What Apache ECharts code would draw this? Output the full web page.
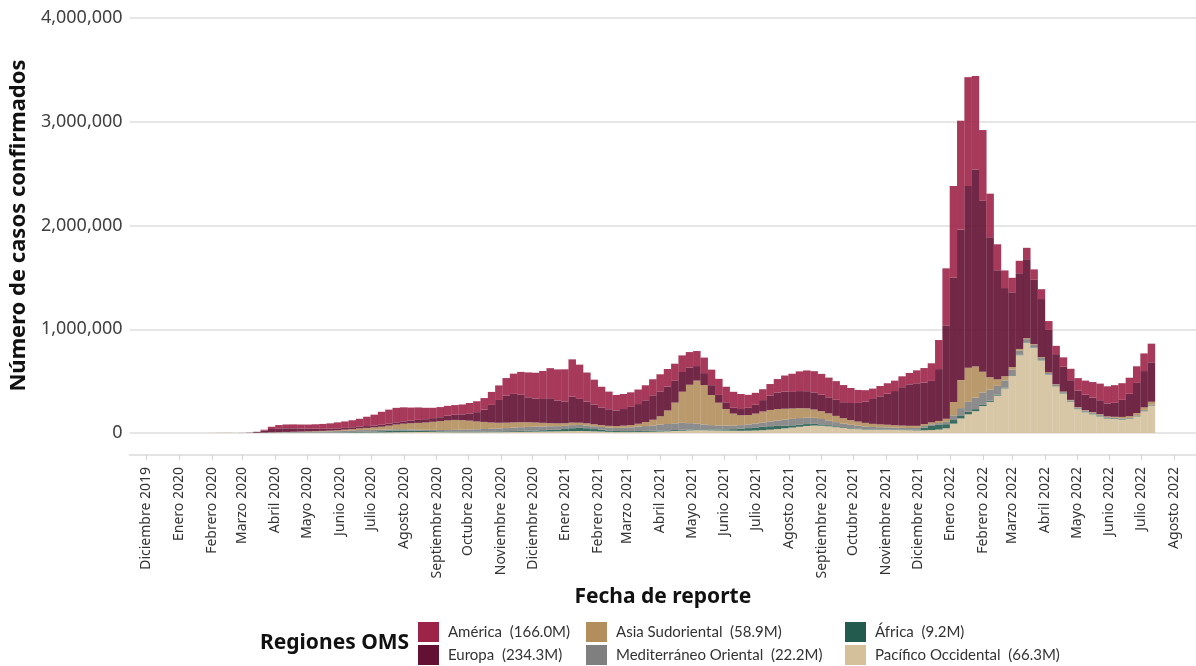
<!DOCTYPE html>
<html>

<head>
    <meta charset="utf-8">
    <title>Casos confirmados por región OMS</title>
    <style>
        html, body { margin: 0; padding: 0; background: #ffffff; }
        #chart-container { width: 1196px; height: 666px; }
    </style>
    <script src="https://cdn.jsdelivr.net/npm/echarts@6/dist/echarts.min.js"></script>
</head>

<body>
    <div id="chart-container"></div>
    <script>
        // casos diarios (miles), una barra por semana desde el jueves 16-ene-2020
        const firstWeek = [2020, 0, 16];

        const pacifico = [
            0.1, 0.5, 2, 3.5, 5, 1.5, 1, 1.2, 1, 1.5, 2, 2.5, 3, 3, 3, 2.5, 2.5, 2.5, 2, 2.5,
            3, 3.5, 4, 4.5, 5, 5.5, 6.5, 7.5, 8.5, 9, 9.5, 10, 9, 8, 7.5, 7, 7, 7, 7, 7.5, 8, 8.5,
            9, 10, 11, 12, 13, 14, 15, 16, 17,
            18, 19, 18, 16, 14, 11, 9, 9, 9, 10, 11, 12, 14, 16, 19, 22, 25, 27, 27, 25, 24,
            23, 22, 21, 22, 24, 27, 32, 38, 45, 52, 60, 68, 72, 70, 64, 56, 48, 42, 37, 32, 30, 30,
            30, 29, 28, 27, 25, 26, 28, 33, 45,
            90, 140, 180, 210, 260, 300, 360, 430, 550, 750, 870, 820, 700, 560, 450, 380, 300,
            230, 200, 180, 160, 140, 135, 130, 135, 160, 210, 260
        ];
        const africa = [
            0, 0, 0, 0, 0, 0, 0, 0, 0, 0.1, 0.3, 0.5, 0.7, 1, 1.2, 1.5, 2, 2.5, 3, 3.5,
            4.5, 5.5, 7, 8.5, 10, 12, 14, 16, 16, 14, 12, 10, 9, 8, 7, 7, 7, 7, 7, 7, 7, 7,
            7.5, 8, 9, 10, 11, 13, 15, 18, 22,
            28, 30, 28, 22, 17, 13, 10, 9, 9, 9, 9, 9, 9, 9, 9, 9, 8, 8, 8, 9, 10,
            12, 15, 20, 25, 30, 33, 33, 30, 26, 22, 20, 18, 16, 13, 11, 9, 7, 6, 5, 4.5, 4, 4,
            3.5, 3.5, 3.5, 4, 8, 25, 40, 45, 40,
            35, 30, 25, 20, 15, 12, 9, 7, 6, 5, 5, 4, 4, 3, 3, 4, 5,
            6, 7, 8, 8, 7, 6, 5, 4, 4, 4, 4
        ];
        const mediterraneo = [
            0, 0, 0, 0, 0, 0, 0.5, 1, 1.5, 2, 3.5, 4.5, 5, 6, 7, 8, 9, 10, 11, 12,
            14, 16, 17, 17, 16, 15, 14, 13, 12, 11, 11, 11, 12, 13, 14, 16, 18, 20, 22, 24, 26, 28,
            31, 34, 36, 37, 37, 36, 35, 32, 30,
            30, 28, 27, 27, 27, 28, 30, 33, 37, 42, 47, 52, 58, 62, 65, 67, 62, 55, 47, 42, 38,
            36, 35, 35, 36, 38, 42, 47, 52, 58, 62, 64, 62, 58, 52, 46, 40, 35, 31, 28, 26, 24, 22,
            21, 19, 18, 17, 16, 16, 16, 18, 22,
            45, 70, 95, 110, 115, 105, 85, 70, 55, 40, 30, 25, 20, 15, 12, 10, 9,
            8, 8, 7, 7, 6, 6, 6, 6, 7, 8, 9
        ];
        const asia = [
            0, 0, 0, 0, 0, 0, 0, 0, 0.1, 0.2, 0.5, 1, 1.5, 2, 2.5, 3.5, 4.5, 5.5, 7, 8.5,
            11, 13, 16, 19, 23, 28, 36, 45, 53, 60, 65, 70, 78, 85, 93, 96, 92, 85, 75, 68, 60, 55,
            52, 50, 48, 45, 40, 35, 30, 27, 25,
            24, 22, 20, 19, 18, 17, 18, 20, 22, 28, 38, 55, 80, 130, 200, 300, 370, 415, 380, 290, 220,
            160, 115, 95, 90, 95, 105, 110, 110, 105, 100, 95, 90, 80, 75, 68, 60, 52, 45, 40, 35, 30, 27,
            25, 23, 22, 21, 20, 19, 18, 20, 30,
            130, 270, 330, 300, 200, 120, 65, 40, 25, 15, 10, 8, 7, 6, 5, 5, 5,
            5, 5, 6, 6, 7, 9, 14, 18, 22, 25, 28
        ];
        const europa = [
            0, 0, 0, 0, 0, 0, 0.5, 2, 8, 20, 32, 36, 35, 33, 30, 26, 24, 20, 18, 18,
            17, 17, 18, 18, 18, 19, 20, 21, 23, 26, 29, 32, 35, 38, 45, 50, 56, 70, 90, 120, 170, 220,
            260, 275, 265, 240, 230, 230, 240, 220, 210,
            250, 230, 210, 190, 170, 160, 150, 160, 175, 190, 210, 235, 240, 230, 210, 190, 165, 140, 115, 95, 75,
            65, 60, 60, 70, 85, 110, 140, 160, 165, 160, 165, 165, 165, 160, 155, 155, 155, 165, 180, 205, 240, 270,
            300, 330, 370, 400, 410, 400, 400, 500, 900,
            1200, 1450, 1750, 1900, 1650, 1350, 1050, 850, 720, 730, 760, 620, 560, 410, 290, 240, 190,
            160, 150, 140, 135, 125, 135, 165, 215, 290, 350, 380
        ];
        const america = [
            0, 0, 0, 0, 0, 0, 0, 0.2, 1, 8, 22, 32, 37, 38, 38, 40, 42, 47, 52, 58,
            62, 68, 75, 90, 105, 125, 135, 140, 135, 125, 120, 110, 100, 98, 95, 93, 95, 100, 105, 110, 125, 140,
            170, 195, 220, 240, 250, 270, 290, 300, 310,
            360, 330, 280, 240, 200, 170, 150, 145, 140, 140, 145, 155, 165, 170, 165, 160, 150, 145, 150, 150, 155,
            150, 150, 145, 125, 115, 105, 110, 130, 155, 175, 190, 200, 205, 200, 190, 180, 165, 145, 125, 110, 100, 100,
            100, 100, 105, 110, 125, 140, 170, 280, 550,
            880, 1050, 1050, 900, 680, 420, 250, 170, 140, 120, 110, 100, 95, 85, 80, 90, 110,
            120, 135, 150, 160, 165, 170, 160, 155, 160, 170, 180
        ];

        const regionNames = ['Pacífico Occidental', 'África', 'Mediterráneo Oriental', 'Asia Sudoriental', 'Europa', 'América'];
        const regionColors = ['#D4C19C', '#235B4E', '#7F7F7F', '#B38E5D', '#621132', '#9D2449'];
        const regionTotals = {
            'América': '166.0M', 'Europa': '234.3M', 'Asia Sudoriental': '58.9M',
            'Mediterráneo Oriental': '22.2M', 'África': '9.2M', 'Pacífico Occidental': '66.3M'
        };

        const monthLabels = [
            'Diciembre 2019', 'Enero 2020', 'Febrero 2020', 'Marzo 2020', 'Abril 2020', 'Mayo 2020',
            'Junio 2020', 'Julio 2020', 'Agosto 2020', 'Septiembre 2020', 'Octubre 2020', 'Noviembre 2020',
            'Diciembre 2020', 'Enero 2021', 'Febrero 2021', 'Marzo 2021', 'Abril 2021', 'Mayo 2021',
            'Junio 2021', 'Julio 2021', 'Agosto 2021', 'Septiembre 2021', 'Octubre 2021', 'Noviembre 2021',
            'Diciembre 2021', 'Enero 2022', 'Febrero 2022', 'Marzo 2022', 'Abril 2022', 'Mayo 2022',
            'Junio 2022', 'Julio 2022', 'Agosto 2022'
        ];

        const weeks = pacifico.map((_, i) => new Date(firstWeek[0], firstWeek[1], firstWeek[2] + 7 * i).getTime());
        const monthTimes = monthLabels.map((_, i) => new Date(2019, 11 + i, 1).getTime());
        const monthLabelByTime = new Map(monthTimes.map((t, i) => [t, monthLabels[i]]));

        const regionData = [pacifico, africa, mediterraneo, asia, europa, america];

        const font = '"Noto Sans", sans-serif';
        const xMin = new Date(2019, 10, 15).getTime();
        const xMax = new Date(2022, 7, 22).getTime();

        var dom = document.getElementById('chart-container');
        var myChart = echarts.init(dom, null, { renderer: 'canvas' });

        const series = regionNames.map((name, k) => ({
            name: name,
            type: 'bar',
            stack: 'total',
            xAxisIndex: 0,
            barWidth: 7.5,
            data: weeks.map((t, i) => [t, regionData[k][i] * 1000]),
            itemStyle: { color: regionColors[k], opacity: 0.9 },
            emphasis: { disabled: true }
        }));

        const legendBase = {
            orient: 'vertical',
            top: 622,
            padding: 0,
            itemWidth: 21,
            itemHeight: 20,
            itemGap: 3,
            icon: 'rect',
            itemStyle: { opacity: 1 },
            textStyle: { fontFamily: 'Lato', fontSize: 15, color: '#333', padding: [0, 0, 0, 4] },
            formatter: name => name + '  (' + regionTotals[name] + ')'
        };

        var option = {
            animation: false,
            backgroundColor: '#ffffff',
            textStyle: { fontFamily: font },
            grid: { left: 126, right: 0, top: 18, bottom: 233, containLabel: false },
            xAxis: [
                {
                    // eje de tiempo para las barras (oculto)
                    type: 'time',
                    min: xMin,
                    max: xMax,
                    show: false
                },
                {
                    // eje visible: marcas y etiquetas al inicio de cada mes
                    type: 'value',
                    min: xMin,
                    max: xMax,
                    position: 'bottom',
                    offset: 22,
                    axisLine: { lineStyle: { color: '#e3e3e3', width: 2 } },
                    axisTick: { show: true, length: 5, customValues: monthTimes, lineStyle: { color: '#d3d3d3' } },
                    axisLabel: {
                        rotate: 90,
                        customValues: monthTimes,
                        formatter: v => monthLabelByTime.get(v) || '',
                        fontFamily: font,
                        fontSize: 14,
                        color: '#333',
                        margin: 12,
                        padding: [10, 0, 0, 0]
                    },
                    splitLine: { show: false },
                    name: 'Fecha de reporte',
                    nameLocation: 'middle',
                    nameGap: 125,
                    nameTextStyle: { fontFamily: font, fontWeight: 'bold', fontSize: 21, color: '#111' }
                }
            ],
            yAxis: {
                type: 'value',
                min: 0,
                max: 4000000,
                interval: 1000000,
                axisLine: { show: false },
                axisTick: { show: false },
                axisLabel: {
                    formatter: v => v.toLocaleString('en-US'),
                    fontFamily: font,
                    fontSize: 18,
                    color: '#404040',
                    margin: 7
                },
                splitLine: { lineStyle: { color: '#e6e6e6', width: 2 } },
                name: 'Número de casos confirmados',
                nameLocation: 'middle',
                nameGap: 76,
                nameTextStyle: { fontFamily: font, fontWeight: 'bold', fontSize: 22, color: '#111' }
            },
            legend: [
                Object.assign({ left: 418, data: ['América', 'Europa'] }, legendBase),
                Object.assign({ left: 586, data: ['Asia Sudoriental', 'Mediterráneo Oriental'] }, legendBase),
                Object.assign({ left: 845, data: ['África', 'Pacífico Occidental'] }, legendBase)
            ],
            graphic: [{
                type: 'text',
                left: 260,
                top: 633,
                style: { text: 'Regiones OMS', font: 'bold 21px "Noto Sans", sans-serif', fill: '#111' }
            }],
            series: series
        };

        myChart.setOption(option);
        window.addEventListener('resize', myChart.resize);
    </script>
</body>

</html>
